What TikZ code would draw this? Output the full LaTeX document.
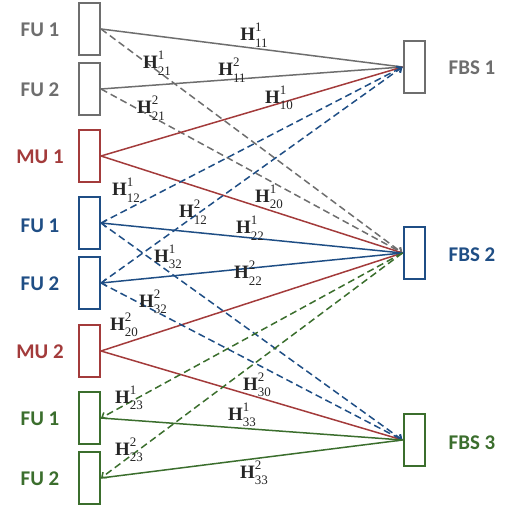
\documentclass[tikz,border=0pt]{standalone}
\usepackage{fontspec}
\setmainfont{Liberation Serif}
\newfontfamily\labfont{Carlito}
\usetikzlibrary{arrows.meta}
\definecolor{cgray}{HTML}{6E6E6E}
\definecolor{cred}{HTML}{A33B3B}
\definecolor{cblue}{HTML}{1F4E85}
\definecolor{cgreen}{HTML}{3B6E2D}
\newcommand\chan[2]{\textbf{H}\rlap{\raisebox{0.5em}{\fontsize{13}{13}\selectfont #1}}\raisebox{-0.32em}{\fontsize{13}{13}\selectfont #2}}
\tikzset{
  ubox/.style={draw, line width=2bp, minimum width=21bp, minimum height=52bp, inner sep=0pt},
  ulab/.style={font=\labfont\bfseries\fontsize{21}{21}\selectfont, inner sep=0pt},
  link/.style={line width=1.5bp},
  dlink/.style={line width=1.5bp, dash pattern=on 7bp off 4bp},
  tip/.style={-{Straight Barb[length=4bp,width=7bp]}},
  hlab/.style={font=\fontsize{19}{19}\selectfont, inner sep=0pt, text=black!85}
}
\begin{document}
\begin{tikzpicture}[x=1bp,y=-1bp]
\useasboundingbox (0,0) rectangle (510,509);
% left boxes
\node[ubox, cgray]  (fa) at (89.5,29) {};
\node[ubox, cgray]  (fb) at (89.5,89) {};
\node[ubox, cred]   (ma) at (89.5,156) {};
\node[ubox, cblue]  (fc) at (89.5,223) {};
\node[ubox, cblue]  (fd) at (89.5,283) {};
\node[ubox, cred]   (mb) at (89.5,351) {};
\node[ubox, cgreen] (fe) at (89.5,418) {};
\node[ubox, cgreen] (ff) at (89.5,478) {};
% right boxes
\node[ubox, cgray]  (b1) at (414,67) {};
\node[ubox, cblue]  (b2) at (414,253) {};
\node[ubox, cgreen] (b3) at (414,440) {};
% labels
\node[ulab, text=cgray]  (lfa) at (40,30) {FU 1};
\node[ulab, text=cgray]  (lfb) at (40,90) {FU 2};
\node[ulab, text=cred]   (lma) at (40,157) {MU 1};
\node[ulab, text=cblue]  (lfc) at (40,226) {FU 1};
\node[ulab, text=cblue]  (lfd) at (40,284) {FU 2};
\node[ulab, text=cred]   (lmb) at (40,352) {MU 2};
\node[ulab, text=cgreen] (lfe) at (40,419) {FU 1};
\node[ulab, text=cgreen] (lff) at (40,479) {FU 2};
\node[ulab, text=cgray]  (lb1) at (472,68) {FBS 1};
\node[ulab, text=cblue]  (lb2) at (472,255) {FBS 2};
\node[ulab, text=cgreen] (lb3) at (472,443) {FBS 3};
% connectors
\draw[link, cgray] (fa.east) -- (b1.west);
\draw[link, cgray] (fb.east) -- (b1.west);
\draw[dlink, cgray, tip] (fa.east) -- (b2.west);
\draw[dlink, cgray, tip] (fb.east) -- (b2.west);
\draw[link, cred] (ma.east) -- (b1.west);
\draw[link, cred] (ma.east) -- (b2.west);
\draw[link, cred] (mb.east) -- (b2.west);
\draw[link, cred] (mb.east) -- (b3.west);
\draw[dlink, cblue, tip] (fc.east) -- (b1.west);
\draw[dlink, cblue, tip] (fd.east) -- (b1.west);
\draw[dlink, cblue, tip] (fc.east) -- (b3.west);
\draw[dlink, cblue, tip] (fd.east) -- (b3.west);
\draw[link, cblue, tip] (b2.west) -- (fc.east);
\draw[link, cblue, tip] (b2.west) -- (fd.east);
\draw[dlink, cgreen, tip] (b2.west) -- (fe.east);
\draw[dlink, cgreen, tip] (b2.west) -- (ff.east);
\draw[link, cgreen] (fe.east) -- (b3.west);
\draw[link, cgreen] (ff.east) -- (b3.west);
% channel labels
\node[hlab] (h111) at (254,35) {\chan{1}{11}};
\node[hlab] (h211) at (157,63) {\chan{1}{21}};
\node[hlab] (h112) at (232,70) {\chan{2}{11}};
\node[hlab] (h212) at (151,108) {\chan{2}{21}};
\node[hlab] (h101) at (279,98) {\chan{1}{10}};
\node[hlab] (h121) at (126,190) {\chan{1}{12}};
\node[hlab] (h122) at (193,212) {\chan{2}{12}};
\node[hlab] (h201) at (269,197) {\chan{1}{20}};
\node[hlab] (h221) at (250,228) {\chan{1}{22}};
\node[hlab] (h321) at (168,257) {\chan{1}{32}};
\node[hlab] (h222) at (248,273) {\chan{2}{22}};
\node[hlab] (h322) at (153,302) {\chan{2}{32}};
\node[hlab] (h202) at (124,325) {\chan{2}{20}};
\node[hlab] (h302) at (257,385) {\chan{2}{30}};
\node[hlab] (h331) at (242,415) {\chan{1}{33}};
\node[hlab] (h231) at (129,398) {\chan{1}{23}};
\node[hlab] (h232) at (129,450) {\chan{2}{23}};
\node[hlab] (h332) at (254,473) {\chan{2}{33}};
\end{tikzpicture}
\end{document}
